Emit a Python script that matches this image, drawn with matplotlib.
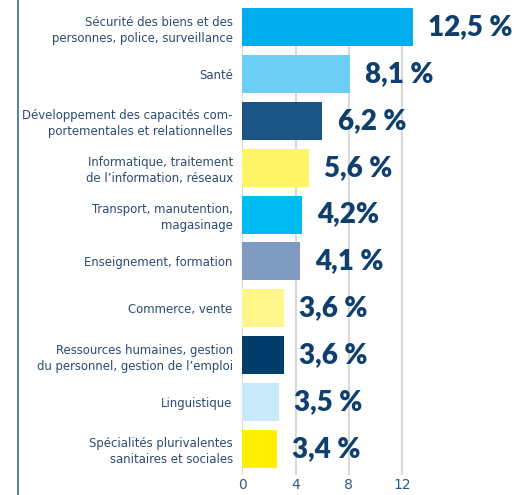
import matplotlib.pyplot as plt
from matplotlib.lines import Line2D

# categories, top to bottom
categories = [
    "Sécurité des biens et des\npersonnes, police, surveillance",
    "Santé",
    "Développement des capacités com-\nportementales et relationnelles",
    "Informatique, traitement\nde l’information, réseaux",
    "Transport, manutention,\nmagasinage",
    "Enseignement, formation",
    "Commerce, vente",
    "Ressources humaines, gestion\ndu personnel, gestion de l’emploi",
    "Linguistique",
    "Spécialités plurivalentes\nsanitaires et sociales",
]
# bar lengths as drawn in the picture
bar_lengths = [12.8, 8.1, 6.0, 5.0, 4.5, 4.3, 3.1, 3.1, 2.75, 2.6]
# printed value labels
value_labels = ["12,5 %", "8,1 %", "6,2 %", "5,6 %", "4,2%",
                "4,1 %", "3,6 %", "3,6 %", "3,5 %", "3,4 %"]
bar_colors = ["#00AEEF", "#6DCFF6", "#1B5586", "#FFF466", "#00BCF2",
              "#7F9BBF", "#FFF68A", "#003D6B", "#C7E9F9", "#FFF000"]
xticks = [0, 4, 8, 12]

navy = "#0E3F6E"
label_col = "#2B4C72"

fig = plt.figure(figsize=(5.18, 4.95), dpi=100)
ax = fig.add_axes([0.468, 0.0404, 0.488, 0.9434])

ypos = list(range(len(categories)))
bars = ax.barh(ypos, bar_lengths, height=0.81, color=bar_colors, zorder=2)

ax.bar_label(bars, labels=value_labels, padding=11, color=navy,
             fontsize=20, fontweight="heavy", family=["Lato", "DejaVu Sans"])

ax.set_xlim(0, 19)
ax.set_ylim(9.555, -0.405)
ax.set_yticks(ypos)
ax.set_yticklabels(categories, fontsize=9.4, color=label_col,
                   family=["DejaVu Sans"], fontstretch="condensed",
                   linespacing=1.3)
ax.set_xticks(xticks)
ax.set_xticklabels([str(t) for t in xticks], fontsize=10, color="#2C5A88")
ax.tick_params(axis="both", length=0)
ax.tick_params(axis="y", pad=7)
ax.tick_params(axis="x", pad=2)
for s in ax.spines.values():
    s.set_visible(False)
ax.grid(axis="x", color="#D9D9D9", linewidth=1.5, zorder=0)
ax.set_axisbelow(True)

# thin frame line at the left edge of the page
fig.add_artist(Line2D([18 / 518, 18 / 518], [0, 1], color="#3A6B96",
                      linewidth=1.2, transform=fig.transFigure))

fig.savefig("out.png", dpi=100)
